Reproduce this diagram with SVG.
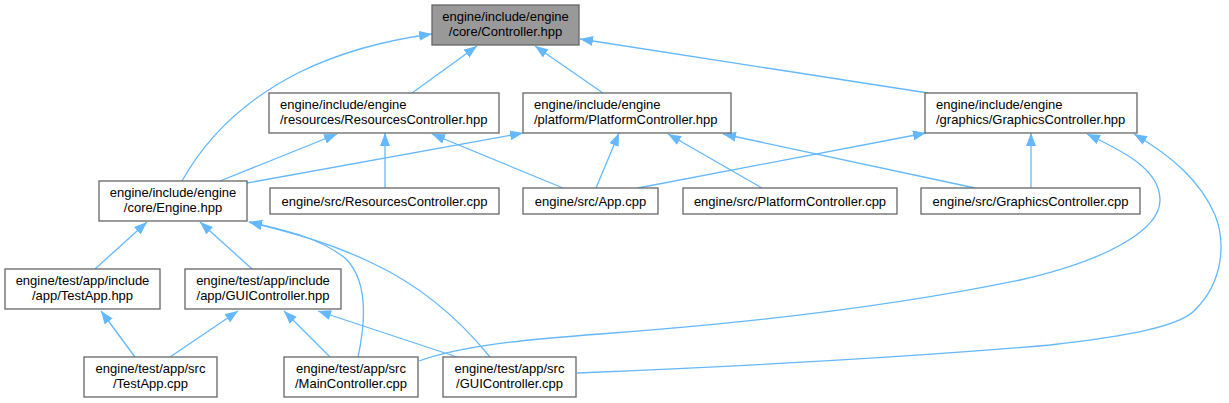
<svg xmlns="http://www.w3.org/2000/svg" width="1229" height="403" viewBox="0 0 1229 403">
<defs>
<style>
.n rect{fill:#ffffff;stroke:#666666;stroke-width:1.3}
.n.root rect{fill:#999999}
.n text{font-family:"Liberation Sans",Arial,sans-serif;font-size:13px;fill:#000000}
.c{text-anchor:middle}
.l{text-anchor:start}
#edges path{fill:none;stroke:#63b8ff;stroke-width:1.3;marker-end:url(#arr)}
</style>
<marker id="arr" viewBox="0 0 13 10" refX="13" refY="5" markerWidth="13" markerHeight="10" markerUnits="userSpaceOnUse" orient="auto">
<path d="M0,0 L13,5 L0,10 z" fill="#63b8ff"/>
</marker>
</defs>
<rect width="1229" height="403" fill="#ffffff"/>
<g id="edges">
<path d="M182,181 C205,140 240,102 300,72 C345,50 395,39 432,34"/>
<path d="M412,93 L477,46"/>
<path d="M603,93 L535,46"/>
<path d="M928,93 L580,39"/>
<path d="M220,181 L337,134"/>
<path d="M247,183 L523,133"/>
<path d="M385,188 L385,133"/>
<path d="M563,188 L432,134"/>
<path d="M596,188 L619,133"/>
<path d="M762,188 L668,134"/>
<path d="M975,188 L723,134"/>
<path d="M638,188 L926,133"/>
<path d="M1031,188 L1031,133"/>
<path d="M419,361 C460,346 520,340 600,334 C750,323 900,305 1020,280 C1100,262 1160,232 1160,200 C1160,170 1125,152 1087,134"/>
<path d="M577,373 C700,368 900,358 1050,345 C1130,336 1180,326 1195,310 C1225,280 1225,240 1215,215 C1200,180 1170,155 1134,134"/>
<path d="M95,269 L147,222"/>
<path d="M252,269 L200,222"/>
<path d="M358,357 C366,320 368,280 345,258 C320,238 285,230 249,222"/>
<path d="M490,357 C460,320 420,285 370,262 C330,243 290,232 249,222"/>
<path d="M135,357 L101,311"/>
<path d="M170,357 L238,311"/>
<path d="M330,357 L284,311"/>
<path d="M457,357 L318,311"/>
</g>
<g id="controller_hpp" class="n root"><rect x="432" y="5" width="147" height="40"/><text class="c" x="505.5" y="21">engine/include/engine</text><text class="c" x="505.5" y="36">/core/Controller.hpp</text></g>
<g id="resources_hpp" class="n"><rect x="269" y="93" width="230" height="40"/><text class="l" x="280" y="109">engine/include/engine</text><text class="l" x="280" y="124">/resources/ResourcesController.hpp</text></g>
<g id="platform_hpp" class="n"><rect x="523" y="93" width="208" height="40"/><text class="l" x="534" y="109">engine/include/engine</text><text class="l" x="534" y="124">/platform/PlatformController.hpp</text></g>
<g id="graphics_hpp" class="n"><rect x="925" y="93" width="212" height="40"/><text class="l" x="936" y="109">engine/include/engine</text><text class="l" x="936" y="124">/graphics/GraphicsController.hpp</text></g>
<g id="engine_hpp" class="n"><rect x="99" y="181" width="148" height="40"/><text class="c" x="173" y="197">engine/include/engine</text><text class="c" x="173" y="212">/core/Engine.hpp</text></g>
<g id="resources_cpp" class="n"><rect x="270" y="188" width="229" height="26"/><text class="c" x="384.5" y="205.5">engine/src/ResourcesController.cpp</text></g>
<g id="app_cpp" class="n"><rect x="523" y="188" width="135" height="26"/><text class="c" x="590.5" y="205.5">engine/src/App.cpp</text></g>
<g id="platform_cpp" class="n"><rect x="683" y="188" width="214" height="26"/><text class="c" x="790" y="205.5">engine/src/PlatformController.cpp</text></g>
<g id="graphics_cpp" class="n"><rect x="921" y="188" width="219" height="26"/><text class="c" x="1030.5" y="205.5">engine/src/GraphicsController.cpp</text></g>
<g id="testapp_hpp" class="n"><rect x="5" y="269" width="155" height="40"/><text class="c" x="82.5" y="285">engine/test/app/include</text><text class="c" x="82.5" y="300">/app/TestApp.hpp</text></g>
<g id="guicontroller_hpp" class="n"><rect x="185" y="269" width="156" height="40"/><text class="c" x="263" y="285">engine/test/app/include</text><text class="c" x="263" y="300">/app/GUIController.hpp</text></g>
<g id="testapp_cpp" class="n"><rect x="84" y="357" width="133" height="40"/><text class="c" x="150.5" y="373">engine/test/app/src</text><text class="c" x="150.5" y="388">/TestApp.cpp</text></g>
<g id="maincontroller_cpp" class="n"><rect x="284" y="357" width="134" height="40"/><text class="c" x="351" y="373">engine/test/app/src</text><text class="c" x="351" y="388">/MainController.cpp</text></g>
<g id="guicontroller_cpp" class="n"><rect x="443" y="357" width="133" height="40"/><text class="c" x="509.5" y="373">engine/test/app/src</text><text class="c" x="509.5" y="388">/GUIController.cpp</text></g>
</svg>
